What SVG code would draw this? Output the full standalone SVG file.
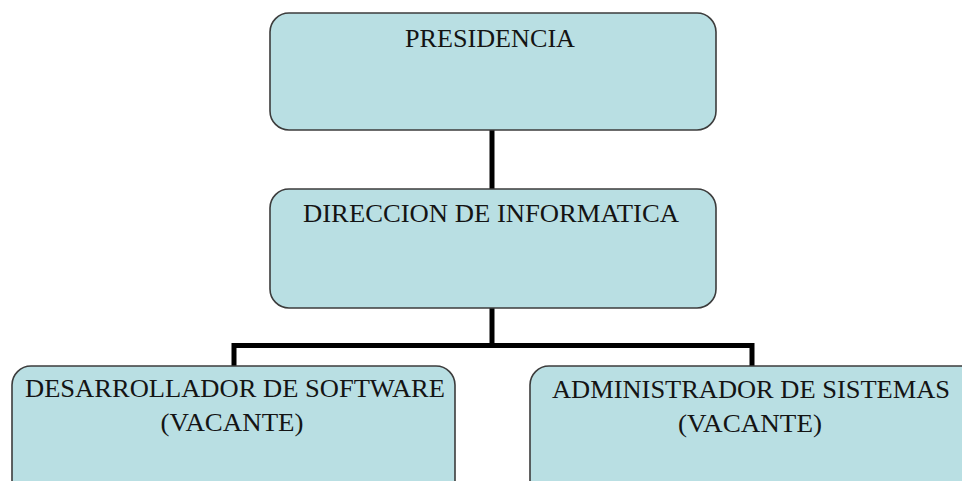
<svg xmlns="http://www.w3.org/2000/svg" width="962" height="481" viewBox="0 0 962 481">
<style>
.box{fill:#b9dfe3;stroke:#3c3c3c;stroke-width:1.6}
.lbl{font-family:"Liberation Serif","DejaVu Serif",serif;font-size:25px;fill:#141414;text-anchor:middle}
.con{fill:none;stroke:#000;stroke-width:5}
</style>
<rect width="962" height="481" fill="#fff"/>
<g id="connectors">
<line class="con" x1="492" y1="130" x2="492" y2="189"/>
<line class="con" x1="492" y1="308" x2="492" y2="345.5"/>
<polyline class="con" points="234,366 234,345.5 752,345.5 752,366"/>
</g>
<g id="presidencia">
<rect class="box" x="270" y="13" width="446" height="117" rx="19"/>
<text class="lbl" x="490" y="47" textLength="170" lengthAdjust="spacingAndGlyphs">PRESIDENCIA</text>
</g>
<g id="direccion">
<rect class="box" x="270" y="189" width="446" height="119" rx="19"/>
<text class="lbl" x="491" y="222" textLength="376" lengthAdjust="spacingAndGlyphs">DIRECCION DE INFORMATICA</text>
</g>
<g id="desarrollador">
<rect class="box" x="12" y="366" width="443" height="140" rx="19"/>
<text class="lbl" x="235" y="397" textLength="420" lengthAdjust="spacingAndGlyphs">DESARROLLADOR DE SOFTWARE</text>
<text class="lbl" x="232" y="431" textLength="143" lengthAdjust="spacingAndGlyphs">(VACANTE)</text>
</g>
<g id="administrador">
<rect class="box" x="530" y="366" width="460" height="140" rx="19"/>
<text class="lbl" x="751" y="398" textLength="398" lengthAdjust="spacingAndGlyphs">ADMINISTRADOR DE SISTEMAS</text>
<text class="lbl" x="750" y="432" textLength="144" lengthAdjust="spacingAndGlyphs">(VACANTE)</text>
</g>
</svg>
